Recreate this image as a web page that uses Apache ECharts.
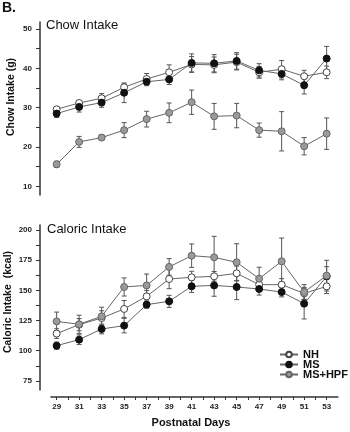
<!DOCTYPE html>
<html><head><meta charset="utf-8">
<script src="https://cdn.jsdelivr.net/npm/echarts@6/dist/echarts.min.js"></script>
<style>html,body{margin:0;padding:0;background:#fff}#c{width:350px;height:432px}</style>
</head><body><div id="c"></div>
<script>
const days = [29,31,33,35,37,39,41,43,45,47,49,51,53];
const dayTickLabels = [29,31,33,35,37,39,41,43,45,47,49,51,53];
const seriesNames = ['NH','MS','MS+HPF'];

const chowNH  = [29.6,31.2,32.4,35.2,37.3,39.0,41.0,40.9,41.6,39.0,39.8,38.0,39.0];
const chowMS  = [28.5,30.2,31.3,33.8,36.6,37.2,41.4,41.3,41.9,39.5,38.6,35.7,42.5];
const chowHPF = [15.6,21.3,22.4,24.3,27.1,28.7,31.4,27.8,28.0,24.3,24.0,20.2,23.4];
const chowNHErr  = [0.5,0.6,1.2,0.8,1.4,1.9,2.0,2.0,2.0,1.5,2.2,1.5,1.6];
const chowMSErr  = [1.0,1.3,1.2,2.5,1.0,1.3,2.3,2.2,2.1,1.7,1.5,2.2,3.1];
const chowHPFErr = [0.8,1.4,0.7,1.9,2.0,2.5,3.1,3.3,3.1,1.8,5.0,2.2,4.0];

const calNH  = [114.2,121.6,127.1,134.6,145.0,159.4,160.8,161.6,164.1,154.7,154.7,147.5,153.3];
const calMS  = [104.2,109.2,118.0,120.8,138.2,140.9,153.3,154.1,152.8,151.1,148.6,139.0,161.6];
const calHPF = [124.3,121.9,128.5,152.8,154.1,169.4,178.7,177.3,173.2,159.7,174.0,148.6,162.2];
const calNHErr  = [4,5,6,7,5,8,5,4,6,4,5,5,6];
const calMSErr  = [3,4,4,6,3,5,5,9,10.5,5,4,12.7,8];
const calHPFErr = [7.7,7.5,7.5,7.5,9.4,6.9,9.7,17.4,15.4,9.4,19.3,6.1,12.7];

const chowTicks = [10,15,20,25,30,35,40,45,50];
const chowLabels = [10,20,30,40,50];
const calTicks = [75,87.5,100,112.5,125,137.5,150,162.5,175,187.5,200];
const calLabels = [75,100,125,150,175,200];
const dayTicks = [29,30,31,32,33,34,35,36,37,38,39,40,41,42,43,44,45,46,47,48,49,50,51,52,53];

const FONT = 'Liberation Sans, Arial, sans-serif';
const styles = [
  {fill:'#ffffff', border:'#444'},
  {fill:'#111111', border:'#111'},
  {fill:'#9a9a9a', border:'#666'}
];

function errSeries(gi, vals, errs){
  return {
    type:'custom', xAxisIndex:gi, yAxisIndex:gi, z:2, clip:false, silent:true,
    encode:{x:0,y:1},
    data: days.map((d,i)=>[d, vals[i], errs[i]]),
    renderItem:function(params, api){
      const x=api.value(0), y=api.value(1), e=api.value(2);
      const t=api.coord([x,y+e]), b=api.coord([x,y-e]);
      const w=2.5, st={stroke:'#555', lineWidth:1};
      return {type:'group', children:[
        {type:'line', shape:{x1:t[0],y1:t[1],x2:b[0],y2:b[1]}, style:st},
        {type:'line', shape:{x1:t[0]-w,y1:t[1],x2:t[0]+w,y2:t[1]}, style:st},
        {type:'line', shape:{x1:b[0]-w,y1:b[1],x2:b[0]+w,y2:b[1]}, style:st}
      ]};
    }
  };
}
function lineSeries(gi, k, vals){
  return {
    type:'line', name:seriesNames[k], xAxisIndex:gi, yAxisIndex:gi, z:3+k,
    data: days.map((d,i)=>[d, vals[i]]),
    symbol:'circle', symbolSize:7,
    lineStyle:{color:'#666', width:1},
    itemStyle:{color:styles[k].fill, borderColor:styles[k].border, borderWidth:1, opacity:1},
    emphasis:{disabled:true}, animation:false
  };
}

const yCommon = {
  type:'value', position:'left', offset:11,
  axisLine:{show:true, lineStyle:{color:'#333', width:1.5}},
  splitLine:{show:false},
  axisTick:{show:true, length:4, lineStyle:{color:'#333', width:1}},
  axisLabel:{fontSize:8, color:'#222', fontFamily:FONT, fontWeight:'bold', margin:8}
};

function legendItem(k, top){
  return {
    data:[seriesNames[k]], orient:'vertical', left:279, top:top, padding:0,
    itemWidth:18, itemHeight:7, itemGap:0,
    textStyle:{fontSize:11, fontWeight:'bold', color:'#111', fontFamily:FONT, lineHeight:10},
    selectedMode:false
  };
}

const chart = echarts.init(document.getElementById('c'), null, {renderer:'canvas'});
chart.setOption({
  animation:false,
  backgroundColor:'#fff',
  grid:[
    {left:51, right:12.1, top:22, height:173},
    {left:51, right:12.1, top:225, height:165}
  ],
  xAxis:[
    {type:'value', gridIndex:0, min:28.5, max:54, show:false},
    {type:'value', gridIndex:1, min:28.5, max:54, offset:7,
     axisLine:{show:true, lineStyle:{color:'#333', width:1.5}},
     splitLine:{show:false},
     axisTick:{show:true, length:3, customValues:dayTicks, lineStyle:{color:'#333'}},
     axisLabel:{customValues:dayTickLabels, fontSize:8, color:'#222', fontFamily:FONT, fontWeight:'bold', margin:6}}
  ],
  yAxis:[
    Object.assign({}, yCommon, {gridIndex:0, min:7.8, max:51.8,
      axisTick:Object.assign({}, yCommon.axisTick, {customValues:chowTicks}),
      axisLabel:Object.assign({}, yCommon.axisLabel, {customValues:chowLabels})}),
    Object.assign({}, yCommon, {gridIndex:1, min:67.5, max:204.1,
      axisTick:Object.assign({}, yCommon.axisTick, {customValues:calTicks}),
      axisLabel:Object.assign({}, yCommon.axisLabel, {customValues:calLabels})})
  ],
  legend:[legendItem(0,349), legendItem(1,359), legendItem(2,369)],
  series:[
    errSeries(0, chowNH, chowNHErr), errSeries(0, chowMS, chowMSErr), errSeries(0, chowHPF, chowHPFErr),
    lineSeries(0,0,chowNH), lineSeries(0,1,chowMS), lineSeries(0,2,chowHPF),
    errSeries(1, calNH, calNHErr), errSeries(1, calMS, calMSErr), errSeries(1, calHPF, calHPFErr),
    lineSeries(1,0,calNH), lineSeries(1,1,calMS), lineSeries(1,2,calHPF)
  ],
  graphic:[
    {type:'text', left:2, top:1, style:{text:'B.', fontSize:14, fontWeight:'bold', fill:'#111', fontFamily:FONT}},
    {type:'text', left:46, top:19, style:{text:'Chow Intake', fontSize:13, fill:'#111', fontFamily:FONT}},
    {type:'text', left:47, top:223, style:{text:'Caloric Intake', fontSize:13, fill:'#111', fontFamily:FONT}},
    {type:'text', x:11, y:97, rotation:Math.PI/2,
     style:{text:'Chow Intake (g)', fontSize:10.5, fontWeight:'bold', fill:'#111', fontFamily:FONT, align:'center', verticalAlign:'middle'}},
    {type:'text', x:8, y:302, rotation:Math.PI/2,
     style:{text:'Caloric Intake  (kcal)', fontSize:10.5, fontWeight:'bold', fill:'#111', fontFamily:FONT, align:'center', verticalAlign:'middle'}},
    {type:'text', x:191, y:423,
     style:{text:'Postnatal Days', fontSize:11, fontWeight:'bold', fill:'#111', fontFamily:FONT, align:'center', verticalAlign:'middle'}}
  ]
});
</script></body></html>
